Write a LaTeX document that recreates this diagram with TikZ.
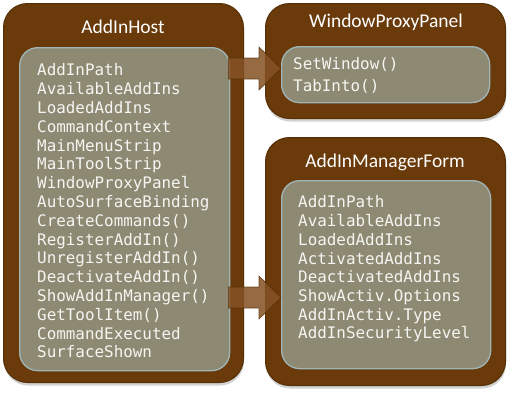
\documentclass[tikz,border=0pt]{standalone}
\usepackage{fontspec}
\setmainfont{Carlito}
\newfontfamily\codefont{DejaVu Sans Mono}
\usetikzlibrary{shadows,calc}
\definecolor{outerbrown}{HTML}{6A3A0A}
\definecolor{outeredge}{HTML}{553005}
\definecolor{panelfill}{HTML}{8E8972}
\definecolor{paneledge}{HTML}{9FB6B8}
\definecolor{arrowfill}{HTML}{845224}
\definecolor{textwhite}{HTML}{F5F5F2}
\tikzset{
  outerbox/.style={draw=outeredge, line width=1pt, fill=outerbrown, rounded corners=24pt,
    anchor=north west, inner sep=0pt,
    drop shadow={shadow xshift=0.5pt, shadow yshift=-3pt, opacity=0.35}},
  panelbox/.style={draw=paneledge, line width=1.3pt, fill=panelfill, rounded corners=18pt,
    anchor=north west, inner sep=0pt},
  titletext/.style={text=white, font=\fontsize{19.5}{22}\selectfont, inner sep=0pt},
  codetext/.style={text=textwhite, align=left, anchor=west, inner sep=0pt},
  blockarrow/.style={fill=arrowfill, fill opacity=0.85, draw=outeredge, draw opacity=0.8, line width=0.6pt}
}
\begin{document}
\begin{tikzpicture}[x=1pt,y=-1pt]
\useasboundingbox[fill=white] (0,0) rectangle (512,392);
% outer boxes
\node[outerbox, minimum width=240pt, minimum height=379pt] (host) at (3,3) {};
\node[outerbox, minimum width=240pt, minimum height=115pt] (wpp) at (265,3) {};
\node[outerbox, minimum width=240pt, minimum height=248pt] (amf) at (265,137) {};
% inner panels
\node[panelbox, minimum width=210pt, minimum height=323pt] (hostpanel) at (19,47) {};
\node[panelbox, minimum width=208pt, minimum height=56pt] (wpppanel) at (281,46) {};
\node[panelbox, minimum width=209pt, minimum height=188pt] (amfpanel) at (281,180) {};
% titles
\node[titletext] (hosttitle) at (123,27) {AddInHost};
\node[titletext] (wpptitle) at (386,22) {WindowProxyPanel};
\node[titletext] (amftitle) at (385,162) {AddInManagerForm};
% arrows
\coordinate (a1s) at ($(hostpanel.east |- 0,68.5)+(-2,0)$);
\coordinate (a1t) at (wpppanel.west |- a1s);
\coordinate (a2s) at ($(hostpanel.east |- 0,297.5)+(-2,0)$);
\coordinate (a2t) at (amfpanel.west |- a2s);
\draw[blockarrow] ($(a1s)+(0,-10.5)$) -- ($(a1t)+(-22,-10.5)$) -- ($(a1t)+(-22,-21.5)$) -- (a1t)
  -- ($(a1t)+(-22,21.5)$) -- ($(a1t)+(-22,10.5)$) -- ($(a1s)+(0,10.5)$) -- cycle;
\draw[blockarrow] ($(a2s)+(0,-10.5)$) -- ($(a2t)+(-22,-10.5)$) -- ($(a2t)+(-22,-21.5)$) -- (a2t)
  -- ($(a2t)+(-22,21.5)$) -- ($(a2t)+(-22,10.5)$) -- ($(a2s)+(0,10.5)$) -- cycle;
% code texts
\node[codetext, font=\codefont\fontsize{15.9}{18.8}\selectfont] (hostcode) at (37,211) {AddInPath\\AvailableAddIns\\LoadedAddIns\\CommandContext\\MainMenuStrip\\MainToolStrip\\WindowProxyPanel\\AutoSurfaceBinding\\CreateCommands()\\RegisterAddIn()\\UnregisterAddIn()\\DeactivateAddIn()\\ShowAddInManager()\\GetToolItem()\\CommandExecuted\\SurfaceShown};
\node[codetext, font=\codefont\fontsize{15.9}{22}\selectfont] (wppcode) at (293,75.8) {SetWindow()\\TabInto()};
\node[codetext, font=\codefont\fontsize{15.9}{18.7}\selectfont] (amfcode) at (298,269) {AddInPath\\AvailableAddIns\\LoadedAddIns\\ActivatedAddIns\\DeactivatedAddIns\\ShowActiv.Options\\AddInActiv.Type\\AddInSecurityLevel};
\end{tikzpicture}
\end{document}
